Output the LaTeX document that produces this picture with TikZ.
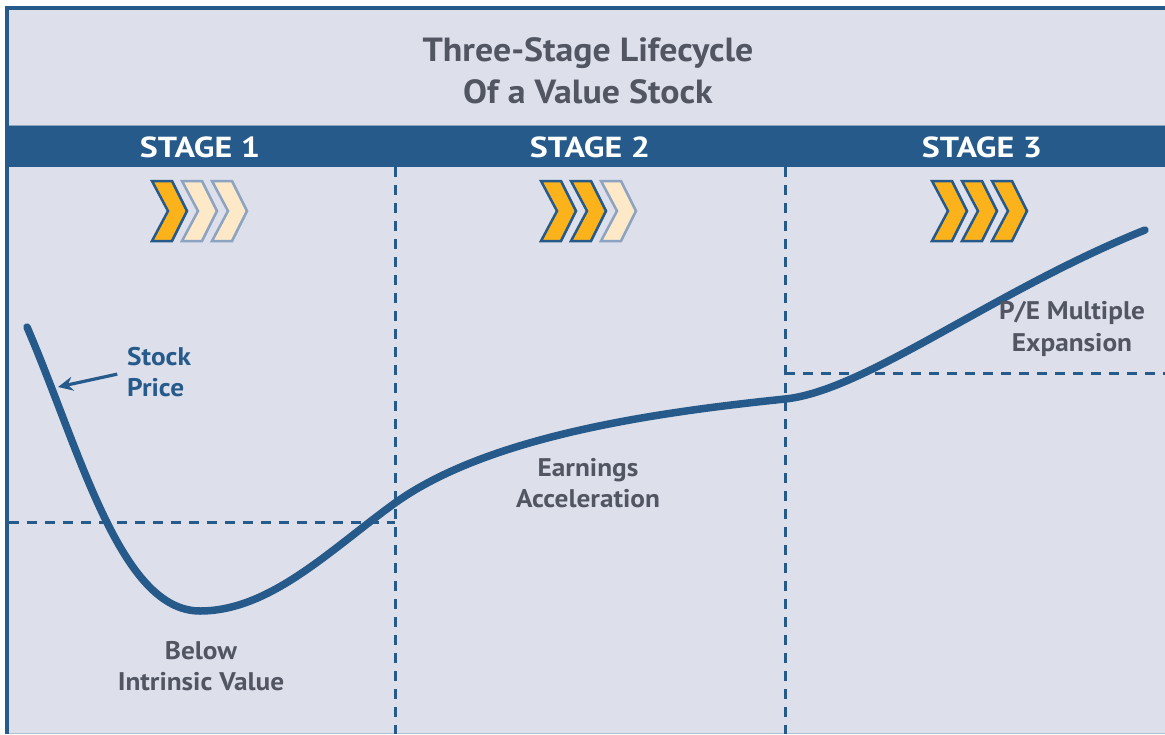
\documentclass[tikz,border=0pt]{standalone}
\usepackage{fontspec}
\setmainfont{PT Sans}
\newfontfamily\widesans[FakeStretch=1.07]{PT Sans}
\newfontfamily\widercaps[FakeStretch=1.17]{PT Sans}
\usetikzlibrary{arrows.meta}
\definecolor{panelbg}{HTML}{DDDFEB}
\definecolor{navy}{HTML}{255A8A}
\definecolor{labelgray}{HTML}{525562}
\definecolor{amber}{HTML}{FBB21B}
\definecolor{paleamber}{HTML}{FDE9C8}
\definecolor{paleedge}{HTML}{8DA3C2}
\tikzset{
  guide/.style={navy, line width=3pt, dash pattern=on 10pt off 8pt},
  pricecurve/.style={navy, line width=7.5pt, line cap=round},
  titletext/.style={labelgray, font=\widesans\bfseries\fontsize{33.5}{42}\selectfont, align=center, inner sep=0pt},
  stagetext/.style={white, font=\widercaps\bfseries\fontsize{29}{32}\selectfont, inner sep=0pt},
  phasetext/.style={labelgray, font=\widesans\bfseries\fontsize{25.5}{31.5}\selectfont, align=center, inner sep=0pt},
  chevon/.style={fill=amber, draw=navy, line width=2.5pt, line join=miter},
  chevoff/.style={fill=paleamber, draw=paleedge, line width=2.5pt, line join=miter},
}
% one chevron, top-left corner at (#2,#3)
\newcommand{\chevronat}[3]{%
  \draw[#1] (#2,#3) -- ++(20,0) -- ++(15,30) -- ++(-15,30) -- ++(-20,0) -- ++(16,-30) -- cycle;}
\begin{document}
\begin{tikzpicture}[x=1pt,y=-1pt]
\useasboundingbox (0,0) rectangle (1165,734);
% frame and panel
\fill[white] (0,0) rectangle (1165,734);
\fill[panelbg] (7,8) rectangle (1165,734);
\fill[navy] (5,6) rectangle (9,734);
\fill[navy] (5,6) rectangle (1165,10);
\draw[line width=1pt, color=paleedge!70] (9,733.5) -- (1165,733.5);
% stage band
\fill[navy] (9,125) rectangle (1165,167);
\draw[line width=1pt, color=paleedge] (9,125.5) -- (1165,125.5);
% title
\node[titletext] (title) at (588,71) {Three-Stage Lifecycle\\Of a Value Stock};
% stage headings
\node[stagetext] (s1) at (200,147) {STAGE 1};
\node[stagetext] (s2) at (590,147) {STAGE 2};
\node[stagetext] (s3) at (982,147) {STAGE 3};
% stage boundaries and value levels
\draw[guide] (395,167) -- (395,734);
\draw[guide] (785,167) -- (785,734);
\draw[guide] (9,522) -- (395,522);
\draw[guide] (785,373) -- (1165,373);
% progress chevrons
\chevronat{chevoff}{212}{181}
\chevronat{chevoff}{182}{181}
\chevronat{chevon}{152}{181}
\chevronat{chevoff}{601}{181}
\chevronat{chevon}{571}{181}
\chevronat{chevon}{541}{181}
\chevronat{chevon}{992}{181}
\chevronat{chevon}{962}{181}
\chevronat{chevon}{932}{181}
% stock price path
\draw[pricecurve] (27,327) .. controls (80,450) and (120,611) .. (200,611)
  .. controls (270,611) and (330,550) .. (395,503)
  .. controls (490,435) and (660,412) .. (785,399)
  .. controls (865,391) and (995,290) .. (1145,230);
% labels
\node[phasetext, navy, align=left, anchor=west] (sp) at (127,372) {Stock\\Price};
\coordinate (sptip) at (58,387);
\draw[navy, line width=3.2pt, shorten <=10pt, -{Stealth[length=15pt,width=14pt,inset=5pt]}] (sp.west) -- (sptip);
\node[phasetext] (below) at (201,666) {Below\\Intrinsic Value};
\node[phasetext] (earn) at (588,483) {Earnings\\Acceleration};
\node[phasetext] (pe) at (1072,329) {P/E Multiple\\Expansion};
\end{tikzpicture}
\end{document}
